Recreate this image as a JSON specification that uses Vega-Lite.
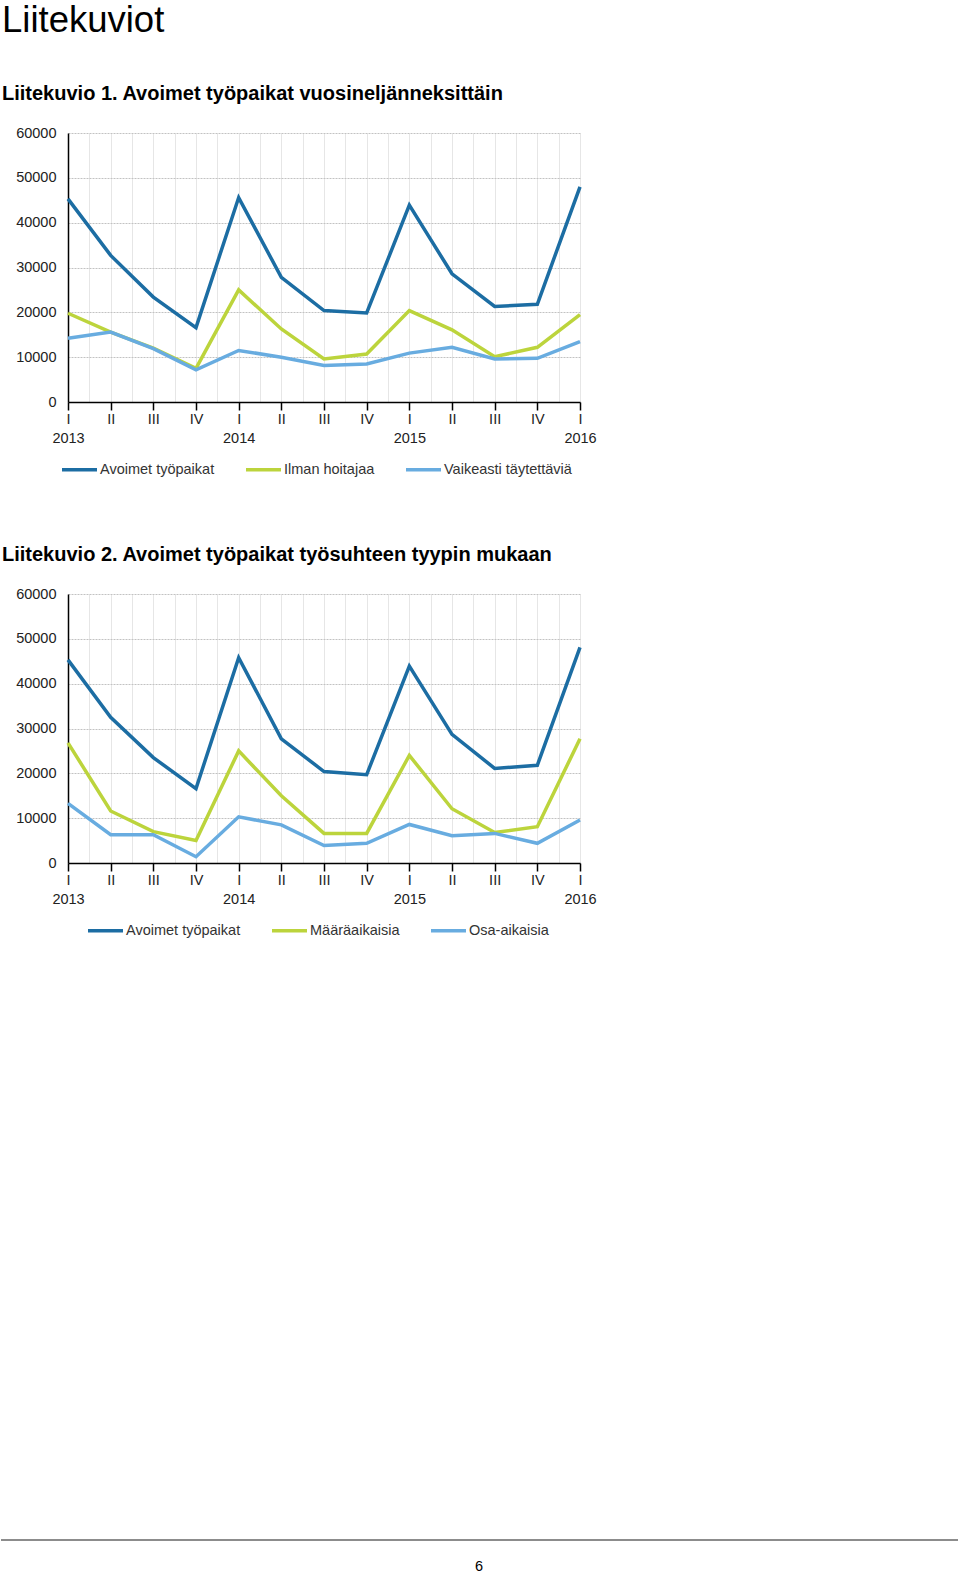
{
  "$schema": "https://vega.github.io/schema/vega-lite/v6.json",
  "padding": {"left": 0, "top": 2, "right": 0, "bottom": 0},
  "background": "white",
  "config": {
    "font": "Liberation Sans",
    "view": {"stroke": null},
    "title": {"font": "Liberation Sans", "color": "#000000"}
  },
  "title": {"text": "Liitekuviot", "anchor": "start", "frame": "group", "dx": -66, "fontSize": 36.5, "fontWeight": "normal", "offset": 45},
  "datasets": {
    "kuvio1": [
      {"aika": 2013.0, "sarja": "Avoimet työpaikat", "arvo": 45300},
      {"aika": 2013.25, "sarja": "Avoimet työpaikat", "arvo": 32700},
      {"aika": 2013.5, "sarja": "Avoimet työpaikat", "arvo": 23400},
      {"aika": 2013.75, "sarja": "Avoimet työpaikat", "arvo": 16600},
      {"aika": 2014.0, "sarja": "Avoimet työpaikat", "arvo": 45600},
      {"aika": 2014.25, "sarja": "Avoimet työpaikat", "arvo": 27800},
      {"aika": 2014.5, "sarja": "Avoimet työpaikat", "arvo": 20400},
      {"aika": 2014.75, "sarja": "Avoimet työpaikat", "arvo": 19850},
      {"aika": 2015.0, "sarja": "Avoimet työpaikat", "arvo": 43900},
      {"aika": 2015.25, "sarja": "Avoimet työpaikat", "arvo": 28600},
      {"aika": 2015.5, "sarja": "Avoimet työpaikat", "arvo": 21300},
      {"aika": 2015.75, "sarja": "Avoimet työpaikat", "arvo": 21800},
      {"aika": 2016.0, "sarja": "Avoimet työpaikat", "arvo": 48000},
      {"aika": 2013.0, "sarja": "Ilman hoitajaa", "arvo": 19800},
      {"aika": 2013.25, "sarja": "Ilman hoitajaa", "arvo": 15600},
      {"aika": 2013.5, "sarja": "Ilman hoitajaa", "arvo": 12000},
      {"aika": 2013.75, "sarja": "Ilman hoitajaa", "arvo": 7500},
      {"aika": 2014.0, "sarja": "Ilman hoitajaa", "arvo": 25000},
      {"aika": 2014.25, "sarja": "Ilman hoitajaa", "arvo": 16300},
      {"aika": 2014.5, "sarja": "Ilman hoitajaa", "arvo": 9600},
      {"aika": 2014.75, "sarja": "Ilman hoitajaa", "arvo": 10700},
      {"aika": 2015.0, "sarja": "Ilman hoitajaa", "arvo": 20400},
      {"aika": 2015.25, "sarja": "Ilman hoitajaa", "arvo": 16100},
      {"aika": 2015.5, "sarja": "Ilman hoitajaa", "arvo": 10100},
      {"aika": 2015.75, "sarja": "Ilman hoitajaa", "arvo": 12200},
      {"aika": 2016.0, "sarja": "Ilman hoitajaa", "arvo": 19500},
      {"aika": 2013.0, "sarja": "Vaikeasti täytettäviä", "arvo": 14200},
      {"aika": 2013.25, "sarja": "Vaikeasti täytettäviä", "arvo": 15600},
      {"aika": 2013.5, "sarja": "Vaikeasti täytettäviä", "arvo": 11900},
      {"aika": 2013.75, "sarja": "Vaikeasti täytettäviä", "arvo": 7200},
      {"aika": 2014.0, "sarja": "Vaikeasti täytettäviä", "arvo": 11500},
      {"aika": 2014.25, "sarja": "Vaikeasti täytettäviä", "arvo": 10000},
      {"aika": 2014.5, "sarja": "Vaikeasti täytettäviä", "arvo": 8150},
      {"aika": 2014.75, "sarja": "Vaikeasti täytettäviä", "arvo": 8500},
      {"aika": 2015.0, "sarja": "Vaikeasti täytettäviä", "arvo": 10900},
      {"aika": 2015.25, "sarja": "Vaikeasti täytettäviä", "arvo": 12200},
      {"aika": 2015.5, "sarja": "Vaikeasti täytettäviä", "arvo": 9600},
      {"aika": 2015.75, "sarja": "Vaikeasti täytettäviä", "arvo": 9750},
      {"aika": 2016.0, "sarja": "Vaikeasti täytettäviä", "arvo": 13450}
    ],
    "kuvio2": [
      {"aika": 2013.0, "sarja": "Avoimet työpaikat", "arvo": 45300},
      {"aika": 2013.25, "sarja": "Avoimet työpaikat", "arvo": 32500},
      {"aika": 2013.5, "sarja": "Avoimet työpaikat", "arvo": 23500},
      {"aika": 2013.75, "sarja": "Avoimet työpaikat", "arvo": 16600},
      {"aika": 2014.0, "sarja": "Avoimet työpaikat", "arvo": 45800},
      {"aika": 2014.25, "sarja": "Avoimet työpaikat", "arvo": 27700},
      {"aika": 2014.5, "sarja": "Avoimet työpaikat", "arvo": 20400},
      {"aika": 2014.75, "sarja": "Avoimet työpaikat", "arvo": 19700},
      {"aika": 2015.0, "sarja": "Avoimet työpaikat", "arvo": 43900},
      {"aika": 2015.25, "sarja": "Avoimet työpaikat", "arvo": 28700},
      {"aika": 2015.5, "sarja": "Avoimet työpaikat", "arvo": 21100},
      {"aika": 2015.75, "sarja": "Avoimet työpaikat", "arvo": 21800},
      {"aika": 2016.0, "sarja": "Avoimet työpaikat", "arvo": 48100},
      {"aika": 2013.0, "sarja": "Määräaikaisia", "arvo": 26800},
      {"aika": 2013.25, "sarja": "Määräaikaisia", "arvo": 11600},
      {"aika": 2013.5, "sarja": "Määräaikaisia", "arvo": 7000},
      {"aika": 2013.75, "sarja": "Määräaikaisia", "arvo": 5000},
      {"aika": 2014.0, "sarja": "Määräaikaisia", "arvo": 25000},
      {"aika": 2014.25, "sarja": "Määräaikaisia", "arvo": 15000},
      {"aika": 2014.5, "sarja": "Määräaikaisia", "arvo": 6600},
      {"aika": 2014.75, "sarja": "Määräaikaisia", "arvo": 6600},
      {"aika": 2015.0, "sarja": "Määräaikaisia", "arvo": 24000},
      {"aika": 2015.25, "sarja": "Määräaikaisia", "arvo": 12100},
      {"aika": 2015.5, "sarja": "Määräaikaisia", "arvo": 6800},
      {"aika": 2015.75, "sarja": "Määräaikaisia", "arvo": 8100},
      {"aika": 2016.0, "sarja": "Määräaikaisia", "arvo": 27700},
      {"aika": 2013.0, "sarja": "Osa-aikaisia", "arvo": 13300},
      {"aika": 2013.25, "sarja": "Osa-aikaisia", "arvo": 6300},
      {"aika": 2013.5, "sarja": "Osa-aikaisia", "arvo": 6300},
      {"aika": 2013.75, "sarja": "Osa-aikaisia", "arvo": 1400},
      {"aika": 2014.0, "sarja": "Osa-aikaisia", "arvo": 10300},
      {"aika": 2014.25, "sarja": "Osa-aikaisia", "arvo": 8500},
      {"aika": 2014.5, "sarja": "Osa-aikaisia", "arvo": 3900},
      {"aika": 2014.75, "sarja": "Osa-aikaisia", "arvo": 4400},
      {"aika": 2015.0, "sarja": "Osa-aikaisia", "arvo": 8600},
      {"aika": 2015.25, "sarja": "Osa-aikaisia", "arvo": 6100},
      {"aika": 2015.5, "sarja": "Osa-aikaisia", "arvo": 6600},
      {"aika": 2015.75, "sarja": "Osa-aikaisia", "arvo": 4400},
      {"aika": 2016.0, "sarja": "Osa-aikaisia", "arvo": 9600}
    ],
    "sivu": [{"numero": "6"}]
  },
  "spacing": 601,
  "resolve": {"scale": {"color": "independent", "x": "independent", "y": "independent"}, "legend": {"color": "independent"}},
  "vconcat": [
    {
      "spacing": 68,
      "resolve": {"scale": {"color": "independent", "x": "independent", "y": "independent"}, "legend": {"color": "independent"}},
      "vconcat": [
        {
          "title": {"text": "Liitekuvio 1. Avoimet työpaikat vuosineljänneksittäin", "anchor": "start", "frame": "group", "dx": -66, "fontSize": 20, "fontWeight": "bold", "offset": 21},
          "width": 512,
          "height": 269,
          "data": {"name": "kuvio1"},
          "mark": {"type": "line", "strokeWidth": 3.5},
          "encoding": {
            "x": {
              "field": "aika", "type": "quantitative",
              "scale": {"domain": [2013, 2016], "nice": false, "zero": false},
              "axis": {
                "title": null,
                "values": [2013, 2013.125, 2013.25, 2013.375, 2013.5, 2013.625, 2013.75, 2013.875, 2014, 2014.125, 2014.25, 2014.375, 2014.5, 2014.625, 2014.75, 2014.875, 2015, 2015.125, 2015.25, 2015.375, 2015.5, 2015.625, 2015.75, 2015.875, 2016],
                "labelExpr": "round((datum.value-floor(datum.value))*8)==0 ? ['I', ''+floor(datum.value)] : round((datum.value-floor(datum.value))*8)==2 ? 'II' : round((datum.value-floor(datum.value))*8)==4 ? 'III' : round((datum.value-floor(datum.value))*8)==6 ? 'IV' : ''",
                "labelOverlap": false, "labelFlush": false,
                "labelFontSize": 14.5, "labelColor": "#222222", "labelPadding": 2, "labelLineHeight": 19,
                "grid": true, "gridColor": "#e6e6e6", "gridWidth": 1,
                "domain": true, "domainColor": "#000000", "domainWidth": 1.5,
                "ticks": true, "tickColor": "#000000", "tickSize": 8, "tickWidth": 1.5,
                "tickOpacity": {"condition": {"test": "round((datum.value-floor(datum.value))*8)%2==1", "value": 0}, "value": 1}
              }
            },
            "y": {
              "field": "arvo", "type": "quantitative",
              "scale": {"domain": [0, 60000], "nice": false},
              "axis": {
                "title": null, "format": "d",
                "values": [0, 10000, 20000, 30000, 40000, 50000, 60000],
                "grid": true, "gridColor": "#c2c2c2", "gridDash": [2, 1], "gridWidth": 1,
                "ticks": false, "domain": true, "domainColor": "#000000", "domainWidth": 1.5,
                "labelPadding": 12, "labelFontSize": 14.5, "labelColor": "#222222"
              }
            },
            "color": {
              "field": "sarja", "type": "nominal",
              "scale": {"domain": ["Avoimet työpaikat", "Ilman hoitajaa", "Vaikeasti täytettäviä"], "range": ["#1c6da3", "#bcd43c", "#68ace0"]},
              "legend": {
                "title": null, "orient": "none", "legendX": -8, "legendY": 317, "direction": "horizontal", "columns": 3,
                "symbolType": "stroke", "symbolSize": 1225, "symbolStrokeWidth": 3.5,
                "labelFontSize": 14.5, "labelColor": "#333333", "labelOffset": 1, "columnPadding": 24
              }
            }
          }
        },
        {
          "title": {"text": "Liitekuvio 2. Avoimet työpaikat työsuhteen tyypin mukaan", "anchor": "start", "frame": "group", "dx": -66, "fontSize": 20, "fontWeight": "bold", "offset": 21},
          "width": 512,
          "height": 269,
          "data": {"name": "kuvio2"},
          "mark": {"type": "line", "strokeWidth": 3.5},
          "encoding": {
            "x": {
              "field": "aika", "type": "quantitative",
              "scale": {"domain": [2013, 2016], "nice": false, "zero": false},
              "axis": {
                "title": null,
                "values": [2013, 2013.125, 2013.25, 2013.375, 2013.5, 2013.625, 2013.75, 2013.875, 2014, 2014.125, 2014.25, 2014.375, 2014.5, 2014.625, 2014.75, 2014.875, 2015, 2015.125, 2015.25, 2015.375, 2015.5, 2015.625, 2015.75, 2015.875, 2016],
                "labelExpr": "round((datum.value-floor(datum.value))*8)==0 ? ['I', ''+floor(datum.value)] : round((datum.value-floor(datum.value))*8)==2 ? 'II' : round((datum.value-floor(datum.value))*8)==4 ? 'III' : round((datum.value-floor(datum.value))*8)==6 ? 'IV' : ''",
                "labelOverlap": false, "labelFlush": false,
                "labelFontSize": 14.5, "labelColor": "#222222", "labelPadding": 2, "labelLineHeight": 19,
                "grid": true, "gridColor": "#e6e6e6", "gridWidth": 1,
                "domain": true, "domainColor": "#000000", "domainWidth": 1.5,
                "ticks": true, "tickColor": "#000000", "tickSize": 8, "tickWidth": 1.5,
                "tickOpacity": {"condition": {"test": "round((datum.value-floor(datum.value))*8)%2==1", "value": 0}, "value": 1}
              }
            },
            "y": {
              "field": "arvo", "type": "quantitative",
              "scale": {"domain": [0, 60000], "nice": false},
              "axis": {
                "title": null, "format": "d",
                "values": [0, 10000, 20000, 30000, 40000, 50000, 60000],
                "grid": true, "gridColor": "#c2c2c2", "gridDash": [2, 1], "gridWidth": 1,
                "ticks": false, "domain": true, "domainColor": "#000000", "domainWidth": 1.5,
                "labelPadding": 12, "labelFontSize": 14.5, "labelColor": "#222222"
              }
            },
            "color": {
              "field": "sarja", "type": "nominal",
              "scale": {"domain": ["Avoimet työpaikat", "Määräaikaisia", "Osa-aikaisia"], "range": ["#1c6da3", "#bcd43c", "#68ace0"]},
              "legend": {
                "title": null, "orient": "none", "legendX": 18, "legendY": 317, "direction": "horizontal", "columns": 3,
                "symbolType": "stroke", "symbolSize": 1225, "symbolStrokeWidth": 3.5,
                "labelFontSize": 14.5, "labelColor": "#333333", "labelOffset": 1, "columnPadding": 24
              }
            }
          }
        }
      ]
    },
    {
      "width": 822,
      "height": 54,
      "data": {"name": "sivu"},
      "layer": [
        {"mark": {"type": "rule", "color": "#8c8c8c", "strokeWidth": 2}, "encoding": {"y": {"value": 0}, "x": {"value": -67}, "x2": {"value": 890}}},
        {"mark": {"type": "text", "fontSize": 14.5, "color": "#000000"}, "encoding": {"text": {"field": "numero", "type": "nominal"}}}
      ]
    }
  ]
}
